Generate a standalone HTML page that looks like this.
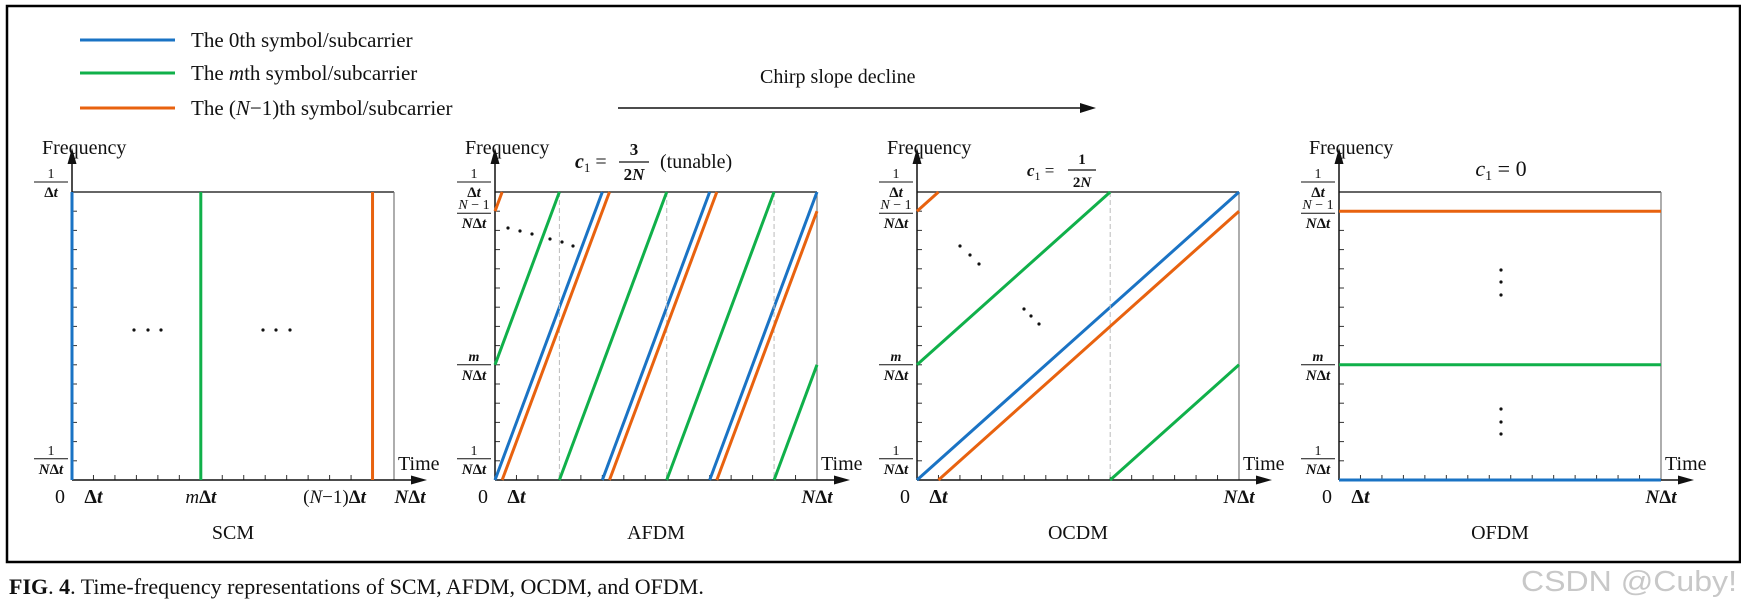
<!DOCTYPE html>
<html><head><meta charset="utf-8">
<style>
html,body{margin:0;padding:0;background:#fff;}
svg{display:block;}
text{font-family:"Liberation Serif",serif;fill:#111;}
</style></head>
<body>
<svg id="fig" width="1741" height="608" viewBox="0 0 1741 608" xmlns="http://www.w3.org/2000/svg">
  <rect x="7" y="6" width="1733" height="556" fill="none" stroke="#000" stroke-width="2.5"/>
  <g>
    <line x1="80" y1="40" x2="175" y2="40" stroke="#1a73c4" stroke-width="3"/>
    <text x="191" y="47" font-size="21">The 0th symbol/subcarrier</text>
    <line x1="80" y1="73" x2="175" y2="73" stroke="#10b04a" stroke-width="3"/>
    <text x="191" y="80" font-size="21">The <tspan font-style="italic">m</tspan>th symbol/subcarrier</text>
    <line x1="80" y1="108" x2="175" y2="108" stroke="#e8620f" stroke-width="3"/>
    <text x="191" y="115" font-size="21">The (<tspan font-style="italic">N</tspan>−1)th symbol/subcarrier</text>
  </g>
  <text x="760" y="83" font-size="20">Chirp slope decline</text>
  <line x1="618" y1="108" x2="1082" y2="108" stroke="#111" stroke-width="1.5"/>
  <polygon points="1096,108 1080,103 1080,113" fill="#111"/>
  <g id="panels"></g>
  <text x="9" y="594" font-size="22" fill="#222"><tspan font-weight="bold">FIG</tspan>. <tspan font-weight="bold">4</tspan>.  Time-frequency representations of SCM, AFDM, OCDM, and OFDM.</text>
  <text x="1521" y="591" font-size="29" textLength="216" lengthAdjust="spacingAndGlyphs" style="font-family:'Liberation Sans',sans-serif;fill:#c8c8c8">CSDN @Cuby!</text>
</svg>
<script>
// data
const N = 15;
const symbolIndices = [0, 6, 14];
const symbolColors = ["#1a73c4", "#10b04a", "#e8620f"];
const panelNames = ["SCM", "AFDM", "OCDM", "OFDM"];
const chirpSlopes = [null, 3, 1, 0]; // frequency bins per Δt; null = single-carrier
const mIndex = 6;

const NS = "http://www.w3.org/2000/svg";
const root = document.getElementById("panels");
const panelX = [72, 495, 917, 1339];
const W = 322, TOP = 192, BOT = 480, H = BOT - TOP;

function mk(tag, attrs, parent) {
  const e = document.createElementNS(NS, tag);
  for (const k in attrs) e.setAttribute(k, attrs[k]);
  parent.appendChild(e);
  return e;
}
function txt(parent, x, y, size, html, anchor, extra) {
  const t = mk("text", Object.assign({x: x, y: y, "font-size": size, "text-anchor": anchor || "start"}, extra || {}), parent);
  t.innerHTML = html;
  return t;
}
const BI = 'font-weight="bold" font-style="italic"';
function frac(g, xr, y, num, den, name) {
  const f = mk("g", {}, g);
  
  
  txt(f, xr - 17, y - 4, 14, num, "middle");
  mk("line", {x1: xr - 34, y1: y, x2: xr, y2: y, stroke: "#111", "stroke-width": 1}, f);
  txt(f, xr - 17, y + 15, 15, den, "middle", {"font-weight": "bold"});
}

panelNames.forEach((name, p) => {
  const x0 = panelX[p];
  const X = t => x0 + t / N * W;
  const Y = f => BOT - f / N * H;
  const g = mk("g", {}, root);
  
  

  mk("line", {x1: x0, y1: TOP, x2: X(N), y2: TOP, stroke: "#333", "stroke-width": 1.5}, g);
  mk("line", {x1: X(N), y1: TOP, x2: X(N), y2: BOT, stroke: "#777", "stroke-width": 1.2}, g);
  for (let i = 1; i < N; i++) {
    mk("line", {x1: x0, y1: Y(i), x2: x0 + 5, y2: Y(i), stroke: "#333", "stroke-width": 1}, g);
    mk("line", {x1: X(i), y1: BOT, x2: X(i), y2: BOT - 5, stroke: "#333", "stroke-width": 1}, g);
  }
  const ya = mk("line", {x1: x0, y1: BOT, x2: x0, y2: 160, stroke: "#111", "stroke-width": 1.5}, g);
  
  
  mk("polygon", {points: `${x0},148 ${x0-4.5},164 ${x0+4.5},164`, fill: "#111"}, g);
  const xa = mk("line", {x1: x0, y1: BOT, x2: X(N) + 20, y2: BOT, stroke: "#111", "stroke-width": 1.5}, g);
  
  
  mk("polygon", {points: `${X(N)+33},${BOT} ${X(N)+17},${BOT-4.5} ${X(N)+17},${BOT+4.5}`, fill: "#111"}, g);

  const yt = txt(g, x0 - 30, 154, 20, "Frequency");
  
  
  const xt = txt(g, X(N) + 4, 470, 20, "Time");
  
  

  frac(g, x0 - 4, TOP - 10, "1", "Δ<tspan font-style='italic'>t</tspan>", "y-label-top");
  if (p > 0) {
    frac(g, x0 - 4, Y(N - 1) + 2, "<tspan font-style='italic'>N</tspan> − 1", "<tspan font-style='italic'>N</tspan>Δ<tspan font-style='italic'>t</tspan>", "y-label-n-1");
    frac(g, x0 - 4, Y(mIndex), "<tspan font-style='italic' font-weight='bold'>m</tspan>", "<tspan font-style='italic'>N</tspan>Δ<tspan font-style='italic'>t</tspan>", "y-label-m");
  }
  frac(g, x0 - 4, Y(1) - 2, "1", "<tspan font-style='italic'>N</tspan>Δ<tspan font-style='italic'>t</tspan>", "y-label-1");

  txt(g, x0 - 12, 503, 20, "0", "middle");
  txt(g, X(1), 503, 20, `<tspan font-weight="bold">Δ<tspan font-style="italic">t</tspan></tspan>`, "middle");
  txt(g, X(N) + (p === 0 ? 16 : 0), 503, 19, `<tspan ${BI}>N</tspan><tspan font-weight="bold">Δ<tspan font-style="italic">t</tspan></tspan>`, "middle");
  if (p === 0) {
    txt(g, X(mIndex), 503, 19, `<tspan font-style="italic">m</tspan><tspan font-weight="bold">Δ<tspan font-style="italic">t</tspan></tspan>`, "middle");
    txt(g, X(N - 1) - 38, 503, 19, `(<tspan font-style="italic">N</tspan>−1)<tspan font-weight="bold">Δ<tspan font-style="italic">t</tspan></tspan>`, "middle");
  }
  const pl = txt(g, x0 + W / 2, 539, 20, name, "middle");
  
  

  const s = chirpSlopes[p];
  symbolIndices.forEach((k, si) => {
    const col = symbolColors[si];
    const segs = [];
    if (s === null) {
      segs.push([k, 0, k, N]);
    } else if (s === 0) {
      segs.push([0, k, N, k]);
    } else {
      let t = 0, f = k;
      while (t < N - 1e-9) {
        const tw = t + (N - f) / s;
        const te = Math.min(tw, N);
        segs.push([t, f, te, f + (te - t) * s]);
        if (tw < N - 1e-9 && si === 1) {
          const d = mk("line", {x1: X(tw), y1: TOP, x2: X(tw), y2: BOT, stroke: "#bbb", "stroke-width": 1, "stroke-dasharray": "5,3"}, g);
          
          
        }
        t = te; f = 0;
      }
    }
    segs.forEach(sg => {
      const l = mk("line", {x1: X(sg[0]), y1: Y(sg[1]), x2: X(sg[2]), y2: Y(sg[3]), stroke: col, "stroke-width": 3}, g);
      
      
    });
  });
});

function dots(pts) {
  pts.forEach(pt => {
    const c = mk("circle", {cx: pt[0], cy: pt[1], r: 1.6, fill: "#111"}, root);
    
    
  });
}
dots([[134,330],[148,330],[161,330],[263,330],[276,330],[290,330]]);
dots([[508,228],[520,231],[532,234],[550,239],[562,242],[573,246]]);
dots([[960,246],[970,255],[979,264],[1024,309],[1031,316],[1039,324]]);
dots([[1501,270],[1501,282],[1501,295],[1501,409],[1501,422],[1501,434]]);

const t1 = mk("g", {}, root);


txt(t1, 575, 168, 20, `<tspan ${BI}>c</tspan><tspan font-size="13" dy="4">1</tspan><tspan dy="-4"> = </tspan>`);
txt(t1, 634, 155, 17, "3", "middle", {"font-weight": "bold"});
mk("line", {x1: 619, y1: 162, x2: 649, y2: 162, stroke: "#111", "stroke-width": 1.3}, t1);
txt(t1, 634, 180, 17, `2<tspan font-style="italic">N</tspan>`, "middle", {"font-weight": "bold"});
txt(t1, 660, 168, 20, "(tunable)");

const t2 = mk("g", {}, root);


txt(t2, 1027, 176, 17, `<tspan ${BI}>c</tspan><tspan font-size="12" dy="4">1</tspan><tspan dy="-4"> = </tspan>`);
txt(t2, 1082, 164, 15, "1", "middle", {"font-weight": "bold"});
mk("line", {x1: 1068, y1: 170, x2: 1096, y2: 170, stroke: "#111", "stroke-width": 1.2}, t2);
txt(t2, 1082, 187, 15, `2<tspan font-style="italic">N</tspan>`, "middle", {"font-weight": "bold"});

const t3 = txt(root, 1501, 176, 22, `<tspan font-style="italic">c</tspan><tspan font-size="14" dy="4">1</tspan><tspan dy="-4"> = 0</tspan>`, "middle");


</script>
</body></html>
